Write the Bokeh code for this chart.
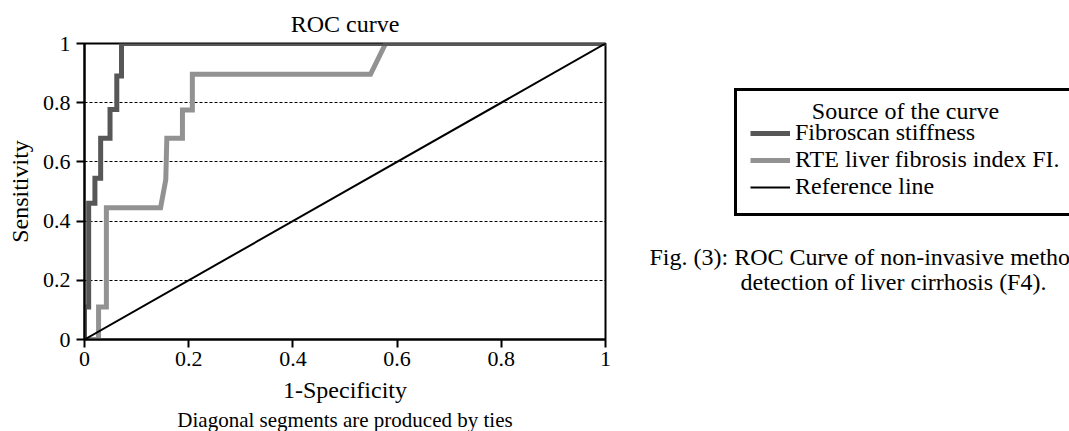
from bokeh.plotting import figure
from bokeh.models import Range1d, FixedTicker, Legend, LegendItem, Label, Title
from bokeh.layouts import row
from bokeh.embed import file_html
from bokeh.resources import INLINE

# ---- data ----
fib_x = [0, 0, 0.008, 0.008, 0.02, 0.02, 0.031, 0.031, 0.049, 0.049, 0.062, 0.062, 0.071, 0.071, 1]
fib_y = [0, 0.11, 0.11, 0.46, 0.46, 0.545, 0.545, 0.68, 0.68, 0.777, 0.777, 0.89, 0.89, 1, 1]
rte_x = [0, 0.027, 0.027, 0.042, 0.042, 0.146, 0.156, 0.158, 0.188, 0.188, 0.207, 0.207, 0.549, 0.578, 1]
rte_y = [0, 0, 0.11, 0.11, 0.445, 0.445, 0.54, 0.68, 0.68, 0.775, 0.775, 0.896, 0.896, 1, 1]
ref_x = [0, 1]
ref_y = [0, 1]
tick_values = [0, 0.2, 0.4, 0.6, 0.8, 1]
tick_labels = ["0", "0.2", "0.4", "0.6", "0.8", "1"]
series_names = ["Fibroscan stiffness", "RTE liver fibrosis index FI.", "Reference line"]
series_colors = ["#575757", "#929292", "black"]
series_widths = [5, 5, 2]

FONT = "Liberation Serif"
W1, H = 640, 431
W2 = 1069 - W1
BT, BB = 43, 91   # borders above / below the plotting frame

p = figure(width=W1, height=H, x_range=Range1d(0, 1), y_range=Range1d(0, 1),
           output_backend="svg", toolbar_location=None,
           min_border_left=84, min_border_right=35, min_border_top=BT, min_border_bottom=BB,
           title="ROC curve")
p.title.align = "center"
p.title.text_font = FONT
p.title.text_font_size = "24px"
p.title.text_font_style = "normal"
p.title.text_color = "black"
p.title.standoff = 13

p.outline_line_color = "black"
p.outline_line_width = 2
p.background_fill_color = "white"
p.border_fill_color = "white"

p.xgrid.grid_line_color = None
p.ygrid.ticker = FixedTicker(ticks=[0.2, 0.4, 0.6, 0.8])
p.ygrid.grid_line_color = "black"
p.ygrid.grid_line_width = 1
p.ygrid.grid_line_dash = "3 2"

for ax in (p.xaxis[0], p.yaxis[0]):
    ax.ticker = FixedTicker(ticks=tick_values)
    ax.major_label_overrides = dict(zip(tick_values, tick_labels))
    ax.axis_line_width = 2
    ax.axis_line_color = "black"
    ax.major_tick_line_width = 2
    ax.major_tick_line_color = "black"
    ax.major_tick_out = 8
    ax.major_tick_in = 0
    ax.minor_tick_line_color = None
    ax.major_label_text_font = FONT
    ax.major_label_text_font_size = "22px"
    ax.major_label_text_color = "black"
    ax.axis_label_text_font = FONT
    ax.axis_label_text_font_size = "24px"
    ax.axis_label_text_font_style = "normal"
    ax.axis_label_text_color = "black"

p.xaxis.axis_label = "1-Specificity"
p.yaxis.axis_label = "Sensitivity"
p.xaxis.major_label_standoff = 4
p.yaxis.major_label_standoff = 6
p.xaxis.axis_label_standoff = 8
p.yaxis.axis_label_standoff = 7

foot = Title(text="Diagonal segments are produced by ties", align="center",
             text_font=FONT, text_font_size="21px", text_font_style="normal",
             text_color="black", standoff=0)
p.add_layout(foot, "below")

r_rte = p.line(rte_x, rte_y, line_color=series_colors[1], line_width=series_widths[1], line_join="miter")
r_fib = p.line(fib_x, fib_y, line_color=series_colors[0], line_width=series_widths[0], line_join="miter")
r_ref = p.line(ref_x, ref_y, line_color=series_colors[2], line_width=series_widths[2])

# ---- right-hand panel: legend and figure caption (frame aligned with the chart's) ----
p2 = figure(width=W2, height=H, x_range=Range1d(2, 3), y_range=Range1d(2, 3),
            output_backend="svg", toolbar_location=None,
            min_border_left=0, min_border_right=0, min_border_top=BT, min_border_bottom=BB)
p2.axis.visible = False
p2.grid.visible = False
p2.outline_line_color = None
p2.background_fill_color = "white"
p2.border_fill_color = "white"

# legend proxies (same series, drawn outside this panel's visible range)
proxies = [p2.line(xs, ys, line_color=c, line_width=w)
           for xs, ys, c, w in zip([fib_x, rte_x, ref_x], [fib_y, rte_y, ref_y],
                                   series_colors, series_widths)]

legend = Legend(items=[LegendItem(label=n, renderers=[r]) for n, r in zip(series_names, proxies)],
                location=(94, 123), title=" ", title_text_font_size="12px", title_standoff=1,
                padding=13, margin=0, spacing=0, glyph_width=40, glyph_height=20,
                label_height=20, label_width=266, label_standoff=5,
                label_text_font=FONT, label_text_font_size="24px", label_text_color="black",
                border_line_color="black", border_line_width=3, border_line_alpha=1,
                background_fill_alpha=0)
p2.add_layout(legend)

p2.add_layout(Label(x=265, y=229, x_units="screen", y_units="screen", text="Source of the curve",
                    text_align="center", text_baseline="middle", text_font=FONT,
                    text_font_size="24px", text_color="black", level="overlay"))
p2.add_layout(Label(x=9, y=83, x_units="screen", y_units="screen",
                    text="Fig. (3): ROC Curve of non-invasive metho",
                    text_align="left", text_baseline="middle", text_font=FONT,
                    text_font_size="24px", text_color="black"))
p2.add_layout(Label(x=253, y=58, x_units="screen", y_units="screen",
                    text="detection of liver cirrhosis (F4).",
                    text_align="center", text_baseline="middle", text_font=FONT,
                    text_font_size="24px", text_color="black"))

layout = row(p, p2, spacing=0)
open("out.html", "w").write(file_html(layout, INLINE))
